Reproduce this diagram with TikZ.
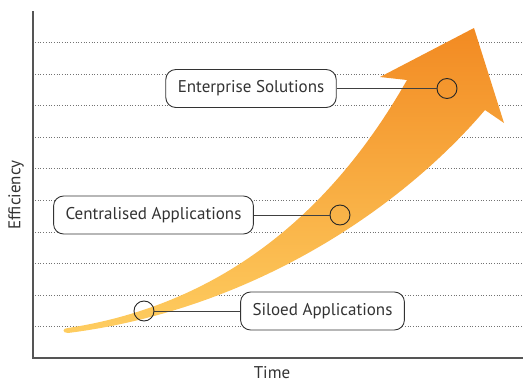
\documentclass[tikz,border=0pt]{standalone}
\usepackage{fontspec}
\setmainfont{PT Sans}
\usetikzlibrary{positioning}
\definecolor{arrowtop}{HTML}{F28A22}
\definecolor{arrowbot}{HTML}{FECD60}
\definecolor{axisgray}{HTML}{555555}
\definecolor{textgray}{HTML}{333333}

\begin{document}
\begin{tikzpicture}[x=1pt, y=-1pt, font=\fontsize{17}{20}\selectfont, >=latex,
    stage/.style={draw=textgray, fill=white, rounded corners=10pt, minimum height=38pt, inner xsep=12pt, text=textgray, line width=0.9pt},
    marker/.style={circle, draw=black!85, minimum size=20pt, inner sep=0pt, line width=0.9pt},
    link/.style={draw=black!75, line width=0.9pt},
    gridline/.style={dotted, draw=black!55, line width=0.7pt}]
    \useasboundingbox (0,0) rectangle (523,383);
    \foreach \k in {0,...,9}
        \draw[gridline] (35,42.3+31.6*\k) -- (523,42.3+31.6*\k);

    % growth arrow
    \shade[top color=arrowtop, bottom color=arrowbot] (68,328) .. controls (250,300) and (350,180) .. (407,80) -- (380,77) -- (474,28) -- (504,123) -- (485,110) .. controls (400,210) and (250,310) .. (68,333) .. controls (62,333) and (62,328) .. cycle;

    \draw[axisgray, line width=1.3pt] (33,11) -- (33,358) -- (523,358);
    \node[text=textgray] (time) at (272,373) {Time};
    \node[text=textgray, rotate=90] (efficiency) at (16,195) {Efficiency};

    \node[stage] (enterprise) at (251,88.5) {Enterprise Solutions};
    \node[marker] (enterprise-dot) at (447,88.5) {};
    \draw[link] (enterprise) -- (enterprise-dot);

    \node[stage] (central) at (153.5,215) {Centralised Applications};
    \node[marker] (central-dot) at (340,215) {};
    \draw[link] (central) -- (central-dot);

    \node[stage] (siloed) at (322.5,311) {Siloed Applications};
    \node[marker] (siloed-dot) at (144,311) {};
    \draw[link] (siloed-dot) -- (siloed);
\end{tikzpicture}
\end{document}
